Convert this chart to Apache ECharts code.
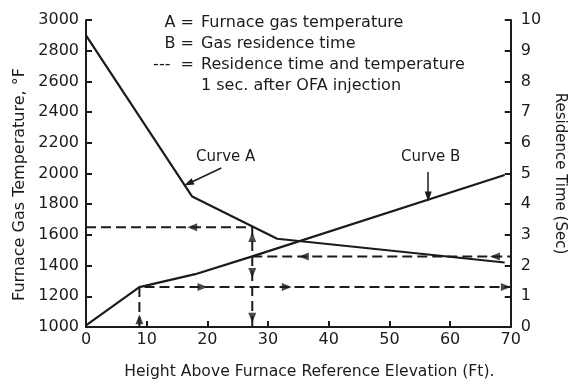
<!DOCTYPE html>
<html><head><meta charset="utf-8">
<script src="https://cdn.jsdelivr.net/npm/echarts@6/dist/echarts.min.js"></script>
<style>html,body{margin:0;padding:0;background:#fff}#c{width:575px;height:385px}</style>
</head><body><div id="c"></div>
<script>
// ---- data ----
const curveAHeight = [0, 17.5, 31.5, 69];
const curveATemp   = [2900, 1850, 1575, 1420];
const curveBHeight = [0, 8.8, 18, 27.4, 69];
const curveBTime   = [0.05, 1.3, 1.72, 2.3, 4.95];
const injHeight = 8.8, injTime = 1.3;
const laterHeight = 27.4, laterTime = 2.3, laterTemp = 1650;
// arrow heads along dashed lines
const tempArrowLeftX = [17.5];               // on laterTemp line
const injArrowRightX = [19.2, 33.1, 69.2];   // on injTime line
const laterArrowLeftX = [35.9, 67.4];        // on laterTime line
const laterVertUp = [2.93];                  // at laterHeight (sec)
const laterVertDown = [1.76, 0.3];
const injVertUp = [0.25];
const legendKeys = ['A =', 'B =', '---  =', ''];
const legendTexts = ['Furnace gas temperature', 'Gas residence time',
  'Residence time and temperature', '1 sec. after OFA injection'];

const FONT = 'DejaVu Sans';
const INK = '#1b1b1b';
const pair = (xs, ys) => xs.map((x, i) => [x, ys[i]]);
const plain = v => String(v);
const axisCommon = {
  axisLine: { show: true, lineStyle: { color: INK, width: 2 } },
  axisTick: { show: true, inside: true, length: 6, lineStyle: { color: INK, width: 2 } },
  axisLabel: { color: INK, fontFamily: FONT, fontSize: 16, formatter: plain },
  splitLine: { show: false },
  nameLocation: 'middle'
};
const nameStyle = (size, pad) => ({ color: INK, fontFamily: FONT, fontSize: size, padding: pad });
const dashed = { color: INK, width: 2, type: [10, 5] };
const arrowSeries = (data, yIdx, rot) => ({
  type: 'scatter', yAxisIndex: yIdx, data, symbol: 'triangle',
  symbolSize: [8, 10], symbolRotate: rot, itemStyle: { color: INK }, silent: true, z: 5
});

const chart = echarts.init(document.getElementById('c'), null, { renderer: 'canvas' });
chart.setOption({
  animation: false,
  backgroundColor: '#fff',
  grid: { left: 86, right: 62, top: 20, bottom: 58 },
  xAxis: Object.assign({}, axisCommon, {
    type: 'value', min: 0, max: 70, interval: 10,
    name: 'Height Above Furnace Reference Elevation (Ft).', nameGap: 37,
    nameTextStyle: nameStyle(15.6, [0, 0, 0, 22]),
    axisLabel: Object.assign({}, axisCommon.axisLabel, { margin: 5 })
  }),
  yAxis: [
    Object.assign({}, axisCommon, {
      type: 'value', min: 1000, max: 3000, interval: 200, position: 'left',
      name: 'Furnace Gas Temperature, °F', nameGap: 48,
      nameTextStyle: nameStyle(16, [0, 22, 0, 0]),
      axisLabel: Object.assign({}, axisCommon.axisLabel, { margin: 7 })
    }),
    Object.assign({}, axisCommon, {
      type: 'value', min: 0, max: 10, interval: 1, position: 'right',
      name: 'Residence Time (Sec)', nameGap: 29, nameRotate: -90,
      nameTextStyle: nameStyle(15, [0, 0, 0, 0]),
      axisLabel: Object.assign({}, axisCommon.axisLabel, { margin: 10 })
    })
  ],
  series: [
    { type: 'line', yAxisIndex: 0, data: pair(curveAHeight, curveATemp), symbol: 'none',
      lineStyle: { color: INK, width: 2.2 },
      markLine: { silent: true, symbol: ['none', 'triangle'], symbolSize: [7, 10],
        label: { show: false }, lineStyle: { color: INK, width: 1.5, type: 'solid' },
        data: [[{ coord: [22.3, 2036] }, { coord: [16.9, 1935] }]] } },
    { type: 'line', yAxisIndex: 1, data: pair(curveBHeight, curveBTime), symbol: 'none',
      lineStyle: { color: INK, width: 2.2 },
      markLine: { silent: true, symbol: ['none', 'triangle'], symbolSize: [7, 10],
        label: { show: false }, lineStyle: { color: INK, width: 1.5, type: 'solid' },
        data: [[{ coord: [56.4, 5.05] }, { coord: [56.4, 4.25] }]] } },
    { type: 'line', yAxisIndex: 0, symbol: 'none', lineStyle: dashed,
      data: [[0, laterTemp], [laterHeight, laterTemp], [laterHeight, 1000]] },
    { type: 'line', yAxisIndex: 1, symbol: 'none', lineStyle: dashed,
      data: [[laterHeight, laterTime], [70, laterTime]] },
    { type: 'line', yAxisIndex: 1, symbol: 'none', lineStyle: dashed,
      data: [[injHeight, 0], [injHeight, injTime], [70, injTime]] },
    arrowSeries(tempArrowLeftX.map(x => [x, laterTemp]), 0, 90),
    arrowSeries(injArrowRightX.map(x => [x, injTime]), 1, -90),
    arrowSeries(laterArrowLeftX.map(x => [x, laterTime]), 1, 90),
    arrowSeries(laterVertUp.map(t => [laterHeight, t]), 1, 0),
    arrowSeries(laterVertDown.map(t => [laterHeight, t]), 1, 180),
    arrowSeries(injVertUp.map(t => [injHeight, t]), 1, 0)
  ],
  graphic: [
    { type: 'text', left: 196, top: 150, style: { text: 'Curve A', fill: INK, font: '15px "DejaVu Sans"' } },
    { type: 'text', left: 401, top: 150, style: { text: 'Curve B', fill: INK, font: '15px "DejaVu Sans"' } }
  ].concat(legendKeys.map((k, i) => ({
    type: 'text', right: 575 - 194, top: 15 + i * 21,
    style: { text: k, fill: INK, font: '16px "DejaVu Sans"', textAlign: 'right' }
  }))).concat(legendTexts.map((t, i) => ({
    type: 'text', left: 201, top: 15 + i * 21,
    style: { text: t, fill: INK, font: '16px "DejaVu Sans"' }
  })))
});
</script></body></html>
